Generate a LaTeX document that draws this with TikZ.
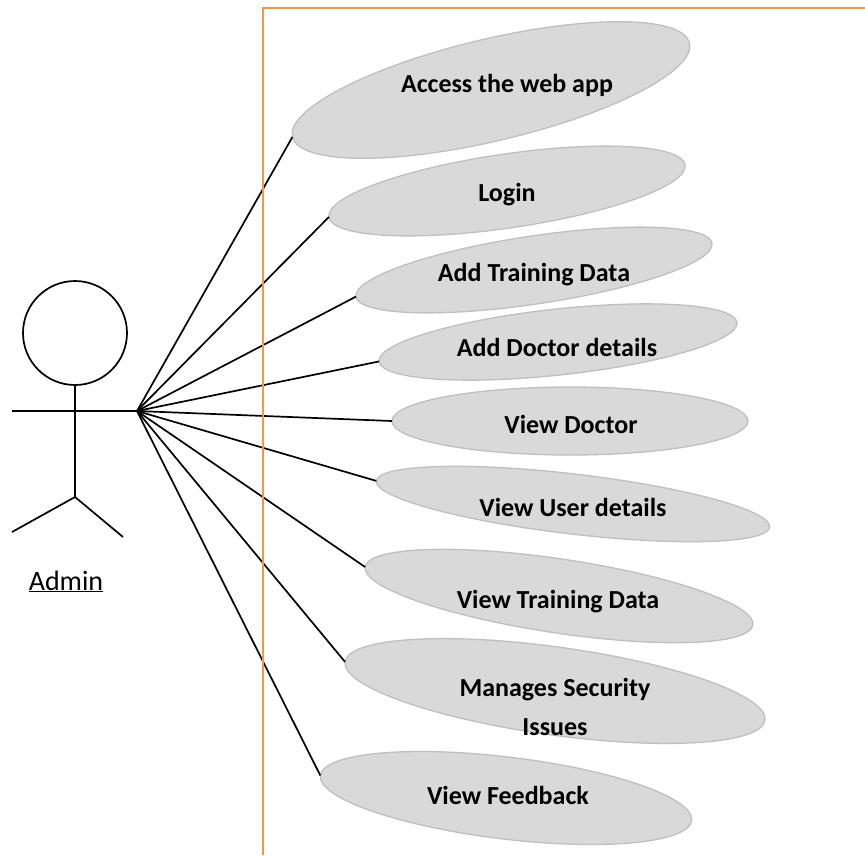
\documentclass[tikz,border=0pt]{standalone}
\usepackage{fontspec}
\setmainfont{Carlito}
\usetikzlibrary{shapes.geometric}
\definecolor{ucfill}{HTML}{D9D9D9}
\definecolor{ucborder}{HTML}{BFBFBF}
\definecolor{frameorange}{HTML}{F79646}
\begin{document}
\begin{tikzpicture}[x=1pt,y=-1pt,
  uc/.style={ellipse, draw=ucborder, fill=ucfill, line width=1.3pt, inner sep=0pt, outer sep=0pt},
  lbl/.style={font=\fontsize{26}{39}\selectfont\bfseries, inner sep=0pt, align=center},
  link/.style={draw=black, line width=1.7pt},
  stick/.style={draw=black, line width=1.7pt},
  frameline/.style={draw=frameorange, line width=1.5pt}]
\useasboundingbox (0,0) rectangle (865,855);
% actor
\node[stick, circle, minimum size=104pt, inner sep=0pt] (head) at (75,333) {};
\coordinate (hip) at (75,497);
\coordinate (lhand) at (12,411);
\coordinate (hub) at (137,411);
\coordinate (lfoot) at (12,532);
\coordinate (rfoot) at (123,537);
\draw[stick] (head.south) -- (hip);
\draw[stick] (lhand) -- (hub);
\draw[stick] (hip) -- (lfoot);
\draw[stick] (hip) -- (rfoot);
\node[font=\fontsize{28}{32}\selectfont, anchor=base, inner sep=0pt] (admin) at (66,590) {\underline{Admin}};
% use cases
\node[uc, rotate=13.3, minimum width=408pt, minimum height=102pt] (e1) at (491,90) {};
\node[uc, rotate=8.3, minimum width=360pt, minimum height=74pt] (e2) at (507,191) {};
\node[uc, rotate=8.5, minimum width=360pt, minimum height=68pt] (e3) at (534,270) {};
\node[uc, rotate=6.2, minimum width=360pt, minimum height=66pt] (e4) at (558,342) {};
\node[uc, rotate=0, minimum width=356pt, minimum height=68pt] (e5) at (570,421) {};
\node[uc, rotate=-6.7, minimum width=396pt, minimum height=60pt] (e6) at (573,504) {};
\node[uc, rotate=-8.5, minimum width=392pt, minimum height=74pt] (e7) at (559,596) {};
\node[uc, rotate=-7.9, minimum width=424pt, minimum height=88pt] (e8) at (555,691) {};
\node[uc, rotate=-6.9, minimum width=374pt, minimum height=82pt] (e9) at (506,798) {};
% connectors
\foreach \e in {e1,e2,e3,e4,e5,e6,e7,e8,e9}
  \draw[link] (hub) -- (\e.west);
% boundary
\coordinate (fbl) at (263,855);
\coordinate (ftl) at (263,8);
\coordinate (ftr) at (865,8);
\draw[frameline] (fbl) -- (ftl) -- (ftr);
% labels
\node[lbl] (t1) at (507,85) {Access the web app};
\node[lbl] (t2) at (507,195) {Login};
\node[lbl] (t3) at (534,275) {Add Training Data};
\node[lbl] (t4) at (557,347) {Add Doctor details};
\node[lbl] (t5) at (571,424) {View Doctor};
\node[lbl] (t6) at (573,507) {View User details};
\node[lbl] (t7) at (558,602) {View Training Data};
\node[lbl] (t8) at (555,707) {Manages Security\\Issues};
\node[lbl] (t9) at (508,795) {View Feedback};
\end{tikzpicture}
\end{document}
